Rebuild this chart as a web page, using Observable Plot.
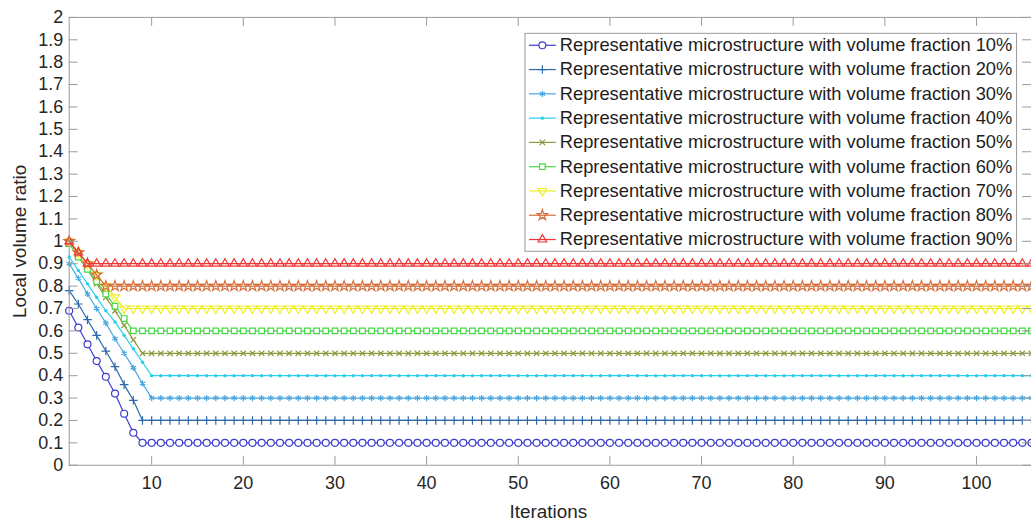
<!DOCTYPE html>
<html><head><meta charset="utf-8">
<script src="https://cdn.jsdelivr.net/npm/d3@7"></script>
<script src="https://cdn.jsdelivr.net/npm/@observablehq/plot@0.6"></script>
<style>
html,body{margin:0;padding:0;background:#fff;overflow:hidden;}
#chart{width:1031px;height:526px;overflow:hidden;}
</style></head><body><div id="chart"></div>
<script>
// ---- data ----
const seriesLabels = [
  "Representative microstructure with volume fraction 10%",
  "Representative microstructure with volume fraction 20%",
  "Representative microstructure with volume fraction 30%",
  "Representative microstructure with volume fraction 40%",
  "Representative microstructure with volume fraction 50%",
  "Representative microstructure with volume fraction 60%",
  "Representative microstructure with volume fraction 70%",
  "Representative microstructure with volume fraction 80%",
  "Representative microstructure with volume fraction 90%"
];
const seriesColors = ["#3d3dcf","#2c6aa9","#47a6e0","#25d0ec","#8a9a3a","#45d845","#eeee22","#d5703e","#ee3535"];
// early iterations (1, 2, 3, ...) of each series
const descent10 = [0.69, 0.615, 0.54, 0.465, 0.395, 0.32, 0.23, 0.145, 0.1];
const descent20 = [0.78, 0.72, 0.65, 0.58, 0.51, 0.44, 0.36, 0.29, 0.2];
const descent30 = [0.9, 0.835, 0.765, 0.7, 0.635, 0.565, 0.5, 0.435, 0.365, 0.3];
const descent40 = [0.93, 0.87, 0.81, 0.75, 0.69, 0.64, 0.58, 0.52, 0.46, 0.4];
const descent50 = [1.0, 0.94, 0.875, 0.81, 0.75, 0.69, 0.625, 0.56, 0.5];
const descent60 = [0.99, 0.93, 0.875, 0.82, 0.765, 0.71, 0.655, 0.6];
const descent70 = [1.0, 0.95, 0.9, 0.85, 0.8, 0.75, 0.7];
const descent80 = [1.0, 0.95, 0.9, 0.85, 0.8];
const descent90 = [1.0, 0.95, 0.9];
// value held for the remaining iterations
const steadyValues = [0.1, 0.2, 0.3, 0.4, 0.5, 0.6, 0.7, 0.8, 0.9];
const lastIteration = 106;
const xTicks = [10, 20, 30, 40, 50, 60, 70, 80, 90, 100];
const yTicks = [0, 0.1, 0.2, 0.3, 0.4, 0.5, 0.6, 0.7, 0.8, 0.9, 1, 1.1, 1.2, 1.3, 1.4, 1.5, 1.6, 1.7, 1.8, 1.9, 2];

// ---- marker styles ----
const markerStyles = [
  {symbol: "circle", r: 3.5, fill: "white", strokeWidth: 1.2},
  {symbol: "plus", r: 2.9, fill: "none", strokeWidth: 1.2},
  {symbol: "asterisk", r: 2.9, fill: "none", strokeWidth: 1.2},
  {symbol: "circle", r: 1.7, fill: "C", stroke: "none"},
  {symbol: "times", r: 2.6, fill: "none", strokeWidth: 1.2},
  {symbol: "square", r: 3.2, fill: "white", strokeWidth: 1.2},
  {symbol: "triangle", r: 3.2, fill: "none", rotate: 180, strokeWidth: 1.2},
  {symbol: "star", r: 3.3, fill: "none", strokeWidth: 1.2},
  {symbol: "triangle", r: 3.2, fill: "none", strokeWidth: 1.2}
];

const descents = [descent10, descent20, descent30, descent40, descent50, descent60, descent70, descent80, descent90];
const rowsBySeries = descents.map((arr, s) => {
  const rows = arr.map((v, i) => ({series: s, iteration: i + 1, value: v}));
  for (let it = arr.length + 1; it <= lastIteration; it++) rows.push({series: s, iteration: it, value: steadyValues[s]});
  return rows;
});

// ---- layout ----
const W = 1036, H = 526;
const mL = 69, mT = 17, mB = 59, mR = 0;
const innerW = W - mL - mR, innerH = H - mT - mB;
const axisGray = "#9a9a9a";
const textColor = "#262626";

function dotOpts(s, extra) {
  const m = markerStyles[s];
  const o = {symbol: m.symbol, r: m.r, stroke: m.stroke === "none" ? "none" : seriesColors[s],
    fill: m.fill === "C" ? seriesColors[s] : m.fill, strokeWidth: m.strokeWidth || 1};
  if (m.rotate) o.rotate = m.rotate;
  return Object.assign(o, extra);
}

const marks = [];
rowsBySeries.forEach((rows, s) => {
  marks.push(Plot.line(rows, {x: "iteration", y: "value", stroke: seriesColors[s], strokeWidth: 1.2}));
  marks.push(Plot.dot(rows, dotOpts(s, {x: "iteration", y: "value"})));
});
marks.push(Plot.frame({stroke: axisGray, strokeWidth: 1}));
marks.push(Plot.tickX(xTicks, {x: d => d, insetTop: innerH - 9, stroke: axisGray}));
marks.push(Plot.tickX(xTicks, {x: d => d, insetBottom: innerH - 9, stroke: axisGray}));
marks.push(Plot.tickY(yTicks, {y: d => d, insetRight: innerW - 9, stroke: axisGray}));
marks.push(Plot.tickY(yTicks, {y: d => d, insetLeft: innerW - 9, stroke: axisGray}));
marks.push(Plot.axisX({ticks: xTicks, tickSize: 0, tickPadding: 11, label: null, fontSize: 18, fill: textColor}));
marks.push(Plot.axisY({ticks: yTicks, tickSize: 0, tickPadding: 6, label: null, fontSize: 18, fill: textColor,
  tickFormat: d => String(+d.toFixed(1))}));
marks.push(Plot.text(["Iterations"], {frameAnchor: "bottom", lineAnchor: "middle", textAnchor: "middle", dx: -2, dy: 47, fontSize: 19, fill: textColor}));
marks.push(Plot.text(["Local volume ratio"], {frameAnchor: "left", lineAnchor: "middle", textAnchor: "middle", dx: -49, rotate: -90, fontSize: 19, fill: textColor}));

// legend
const legL = 527, legR = 1021, legT = 33, legB = 252;
marks.push(Plot.frame({fill: "white", stroke: axisGray, strokeWidth: 1,
  insetLeft: legL - mL, insetRight: W - mR - legR, insetTop: legT - mT, insetBottom: (H - mB) - legB}));
seriesLabels.forEach((lab, s) => {
  const cy = 45 + 24.4 * s;
  marks.push(Plot.frame({fill: seriesColors[s], stroke: "none",
    insetLeft: 531 - mL, insetRight: W - mR - 558, insetTop: cy - 0.6 - mT, insetBottom: (H - mB) - (cy + 0.6)}));
  marks.push(Plot.dot([lab], dotOpts(s, {frameAnchor: "top-left", dx: 544.5 - mL, dy: cy - mT})));
  marks.push(Plot.text([lab], {frameAnchor: "top-left", lineAnchor: "middle", dx: 562 - mL, dy: cy - mT, text: d => d,
    textAnchor: "start", fontSize: 18.4, fill: "#1e1e1e"}));
});

const chart = Plot.plot({
  width: W, height: H,
  marginLeft: mL, marginRight: mR, marginTop: mT, marginBottom: mB,
  x: {domain: [1, lastIteration]},
  y: {domain: [0, 2]},
  style: {fontFamily: "'Liberation Sans', Arial, sans-serif", background: "white", color: textColor, overflow: "visible"},
  marks
});
document.getElementById("chart").appendChild(chart);
</script>
</body></html>
